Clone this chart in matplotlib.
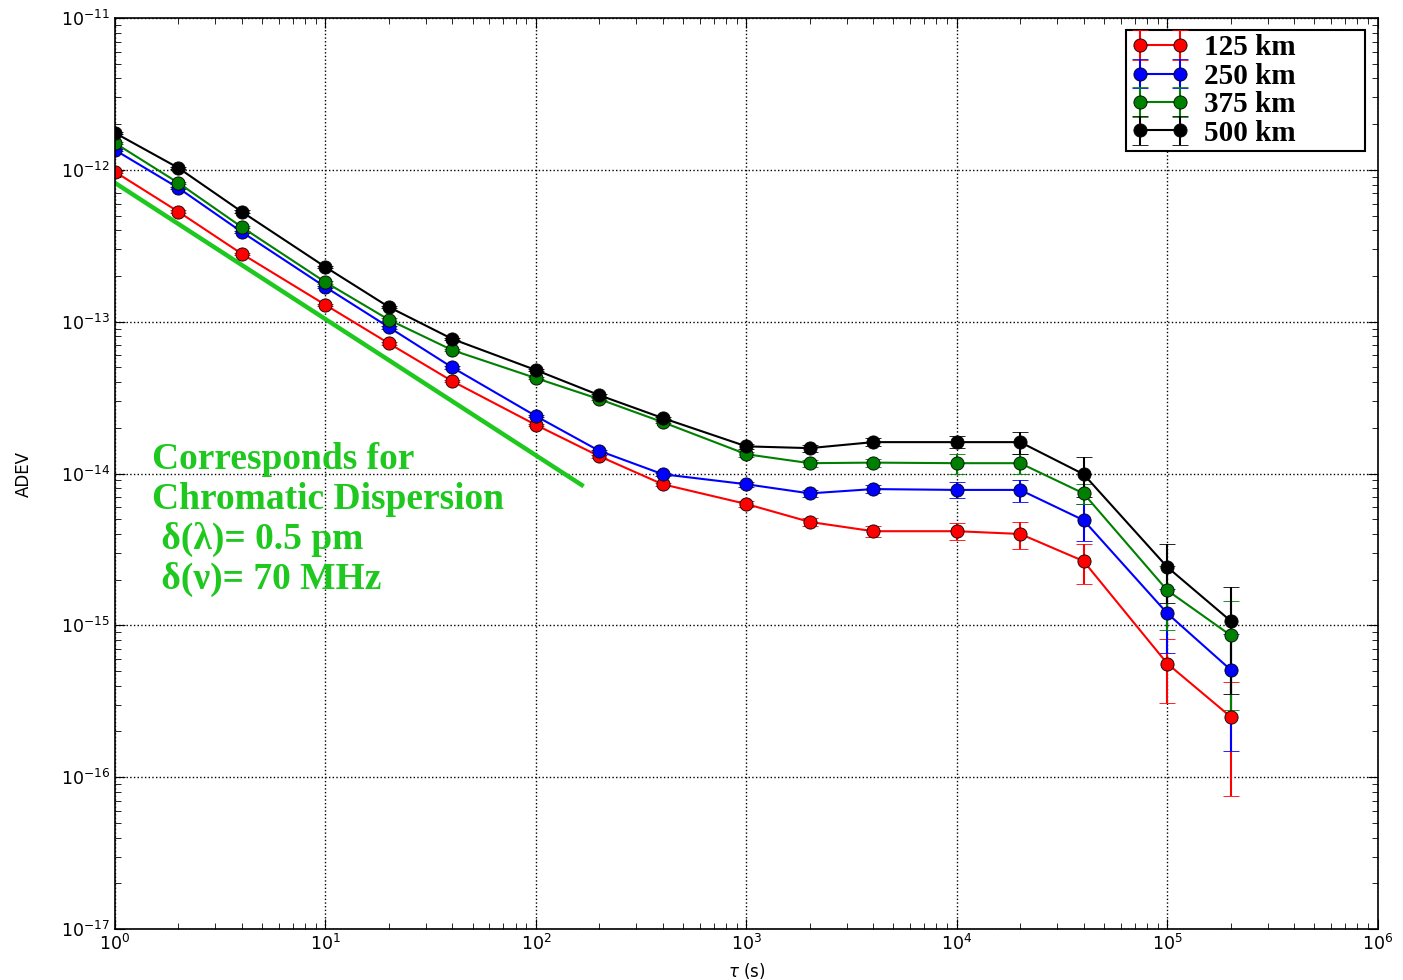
import numpy as np
import matplotlib.pyplot as plt

# averaging times
tau = [1, 2, 4, 10, 20, 40, 100, 200, 400, 1e3, 2e3, 4e3, 1e4, 2e4, 4e4, 1e5, 2e5]

# ADEV per fibre length
adev_125 = [9.7e-13, 5.3e-13, 2.8e-13, 1.29e-13, 7.2e-14, 4.06e-14, 2.09e-14, 1.30e-14,
            8.5e-15, 6.3e-15, 4.8e-15, 4.17e-15, 4.17e-15, 4.0e-15, 2.65e-15, 5.6e-16, 2.5e-16]
adev_250 = [1.35e-12, 7.6e-13, 3.9e-13, 1.69e-13, 9.2e-14, 5.0e-14, 2.39e-14, 1.41e-14,
            9.9e-15, 8.5e-15, 7.4e-15, 7.9e-15, 7.8e-15, 7.8e-15, 4.93e-15, 1.2e-15, 5.1e-16]
adev_375 = [1.5e-12, 8.2e-13, 4.2e-13, 1.82e-13, 1.03e-13, 6.5e-14, 4.25e-14, 3.09e-14,
            2.18e-14, 1.34e-14, 1.17e-14, 1.18e-14, 1.17e-14, 1.17e-14, 7.4e-15, 1.7e-15, 8.6e-16]
adev_500 = [1.75e-12, 1.03e-12, 5.3e-13, 2.29e-13, 1.25e-13, 7.7e-14, 4.8e-14, 3.28e-14,
            2.32e-14, 1.51e-14, 1.47e-14, 1.61e-14, 1.61e-14, 1.61e-14, 9.9e-15, 2.42e-15, 1.07e-15]

# relative error (fraction of value)
rel_125 = [0.02] * 9 + [0.05, 0.06, 0.08, 0.13, 0.20, 0.29, 0.45, 0.70]
rel_250 = [0.02] * 9 + [0.04, 0.05, 0.06, 0.12, 0.17, 0.27, 0.45, 0.71]
rel_375 = [0.02] * 9 + [0.04, 0.05, 0.06, 0.15, 0.15, 0.15, 0.45, 0.68]
rel_500 = [0.02] * 9 + [0.04, 0.05, 0.06, 0.09, 0.16, 0.29, 0.42, 0.67]

labels = ['125 km', '250 km', '375 km', '500 km']
colors = ['r', 'b', 'g', 'k']

# chromatic dispersion guide line
cd_tau = [1, 165]
cd_adev = [8.2e-13, 8.4e-15]

fig = plt.figure(figsize=(14.03, 9.8), dpi=100)
ax = fig.add_axes([0.082, 0.052, 0.9, 0.9296])

for y, r, c, lab in zip([adev_125, adev_250, adev_375, adev_500],
                        [rel_125, rel_250, rel_375, rel_500], colors, labels):
    y = np.array(y)
    ax.errorbar(tau, y, yerr=y * np.array(r), color=c, marker='o', ms=9.5,
                mec='k', mew=0.6, lw=1.5, capsize=6, capthick=1.2, label=lab)

ax.plot(cd_tau, cd_adev, color='#1ec81e', lw=3.2)

ax.set_xscale('log')
ax.set_yscale('log')
ax.set_xlim(1, 1e6)
ax.set_ylim(1e-17, 1e-11)
ax.grid(True, which='major', ls=':', color='k', lw=1)
ax.tick_params(which='both', direction='in', top=True, right=True, labelsize=12.5)
ax.tick_params(which='major', length=7)
ax.tick_params(which='minor', length=4)
for s in ax.spines.values():
    s.set_linewidth(1.2)

ax.set_xlabel(r'$\tau$ (s)', fontsize=12, labelpad=5)
ax.set_ylabel('ADEV', fontsize=12, labelpad=20)

ax.text(1.5, 1.62e-14, 'Corresponds for\nChromatic Dispersion\n δ(λ)= 0.5 pm\n δ(ν)= 70 MHz',
        family=['Liberation Serif', 'DejaVu Serif'], fontweight='bold', fontsize=27,
        color='#1ec81e', va='top', ha='left', linespacing=1.18)

leg = ax.legend(loc='upper left', bbox_to_anchor=(0.801, 0.987, 0.189, 0.0), mode='expand',
                prop={'family': 'Liberation Serif', 'weight': 'bold', 'size': 21},
                fancybox=False, edgecolor='k', framealpha=1, borderpad=0.15, numpoints=2,
                labelspacing=0.05, handlelength=2.0, handletextpad=0.5, borderaxespad=0)
leg.get_frame().set_linewidth(1.5)

fig.savefig('out.png', dpi=100)
